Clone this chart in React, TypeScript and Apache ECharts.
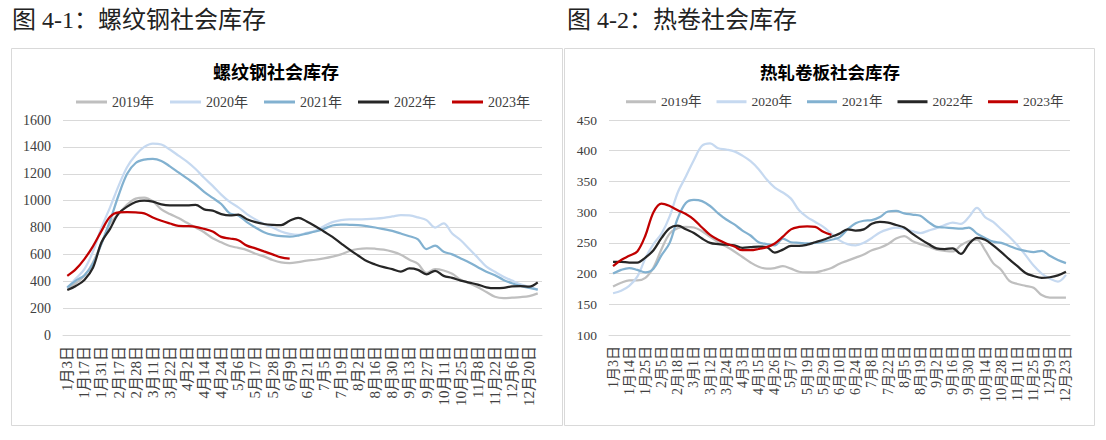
import React, { useEffect, useRef } from 'react';
import * as echarts from 'echarts';

const years = ['2019年', '2020年', '2021年', '2022年', '2023年'];
const colors = ['#BFBFBF', '#C6D9F0', '#82B1D0', '#262626', '#C00000'];

const rebarDates = ['1月3日','1月10日','1月17日','1月24日','1月31日','2月7日','2月17日','2月21日','2月28日','3月4日','3月11日','3月15日','3月22日','3月26日','4月2日','4月8日','4月14日','4月19日','4月24日','4月29日','5月6日','5月11日','5月17日','5月22日','5月28日','6月2日','6月9日','6月15日','6月21日','6月28日','7月5日','7月12日','7月19日','7月26日','8月2日','8月9日','8月16日','8月23日','8月30日','9月6日','9月13日','9月20日','9月27日','10月4日','10月11日','10月18日','10月25日','11月1日','11月8日','11月15日','11月22日','11月29日','12月6日','12月13日','12月20日','12月27日'];

const rebar2019 = [350,385,440,540,680,830,900,970,1015,1022,995,935,900,870,835,800,765,720,690,662,648,632,605,585,558,540,535,542,553,560,570,583,600,625,640,645,642,635,620,597,560,530,462,490,480,455,412,385,355,320,285,275,278,282,290,310];
const rebar2020 = [350,420,490,620,800,950,1110,1250,1340,1400,1425,1418,1380,1335,1290,1235,1170,1110,1045,990,950,900,860,825,800,770,752,745,760,775,810,840,855,860,860,862,866,872,882,893,890,875,855,800,830,755,705,640,575,508,470,434,405,378,358,338];
const rebar2021 = [355,405,445,530,680,850,1040,1200,1280,1305,1310,1295,1255,1210,1165,1120,1065,1020,975,905,890,840,800,765,745,735,732,740,755,770,790,815,822,820,818,810,800,788,775,755,735,712,640,665,620,600,570,540,505,470,445,410,385,365,350,338];
const rebar2022 = [335,365,410,500,690,790,905,955,990,1000,992,972,965,965,965,968,935,925,900,890,895,862,840,826,820,818,850,872,845,810,770,730,682,635,592,550,525,505,490,472,495,485,452,478,440,425,405,390,375,355,348,350,362,363,360,392];
const rebar2023 = [440,490,565,660,775,880,912,915,912,905,875,850,830,812,810,805,790,770,730,718,705,665,645,622,600,578,568];

const coilDates = ['1月3日','1月8日','1月14日','1月19日','1月25日','1月30日','2月5日','2月11日','2月18日','2月23日','3月1日','3月6日','3月12日','3月18日','3月24日','3月29日','4月3日','4月9日','4月15日','4月20日','4月26日','5月1日','5月7日','5月13日','5月19日','5月24日','5月29日','6月3日','6月10日','6月17日','6月24日','7月1日','7月8日','7月15日','7月22日','7月29日','8月5日','8月12日','8月19日','8月26日','9月2日','9月9日','9月16日','9月23日','9月30日','10月7日','10月14日','10月21日','10月28日','11月4日','11月11日','11月18日','11月25日','12月2日','12月9日','12月16日','12月23日'];

const coil2019 = [179,185,189,189,193,210,240,265,274,276,275,269,260,251,244,236,227,218,211,208,209,212,208,203,202,202,205,209,216,221,226,231,238,242,248,257,261,253,248,244,239,237,236,246,253,255,238,217,206,188,183,180,177,165,161,161,161];
const coil2020 = [168,172,180,195,225,248,265,293,332,358,385,408,412,404,402,399,392,383,370,353,340,332,322,303,292,284,276,265,254,248,246,250,258,267,272,275,273,269,266,270,274,279,283,281,292,307,292,284,272,260,246,230,213,200,192,187,198];
const coil2021 = [200,206,209,206,202,208,230,250,290,315,320,318,310,298,288,280,270,262,251,248,246,257,251,250,249,250,252,255,259,272,282,286,287,292,301,302,298,296,294,284,276,275,274,273,275,265,258,252,250,245,240,237,235,237,229,222,217];
const coil2022 = [219,219,218,218,226,238,258,274,278,272,266,257,250,248,247,246,242,243,244,243,234,239,245,245,247,251,255,260,265,272,270,272,281,284,283,279,275,265,256,248,241,240,241,232,248,258,255,246,235,223,212,201,196,193,194,197,203];
const coil2023 = [212,222,229,236,262,300,314,310,303,297,288,275,263,255,249,244,238,238,240,243,249,260,272,276,277,276,268,263];

const rebarSeries = [rebar2019, rebar2020, rebar2021, rebar2022, rebar2023];
const coilSeries = [coil2019, coil2020, coil2021, coil2022, coil2023];

const SERIF = "'Liberation Serif', 'Noto Sans CJK SC', serif";
const SANS = "'Noto Sans CJK SC', sans-serif";
const TEXT = '#404040';
const GRID = '#D9D9D9';

export default function App() {
  const ref = useRef<HTMLDivElement>(null);
  useEffect(() => {
    if (!ref.current) return;
    const chart = echarts.init(ref.current, null, { renderer: 'svg' });

    const makeX = (idx: number, data: string[], fs: number) => ({
      type: 'category',
      gridIndex: idx,
      data,
      boundaryGap: true,
      axisLine: { show: true, lineStyle: { color: GRID, width: 1 } },
      axisTick: { show: false },
      axisLabel: {
        interval: 1,
        rotate: 90,
        margin: 11,
        fontSize: fs,
        fontFamily: SERIF,
        color: TEXT,
      },
    });
    const makeY = (idx: number, min: number, max: number, interval: number, fs: number) => ({
      type: 'value',
      gridIndex: idx,
      min,
      max,
      interval,
      axisLine: { show: false },
      axisTick: { show: false },
      splitLine: { show: true, lineStyle: { color: GRID, width: 1 } },
      axisLabel: {
        margin: 12,
        fontSize: fs,
        fontFamily: SERIF,
        color: TEXT,
        formatter: (v: number) => String(v),
      },
    });

    const series: any[] = [];
    [rebarSeries, coilSeries].forEach((set, k) => {
      set.forEach((data, y) => {
        series.push({
          type: 'line',
          name: years[y],
          xAxisIndex: k,
          yAxisIndex: k,
          data,
          symbol: 'none',
          smooth: 0.35,
          lineStyle: { width: 2.25, color: colors[y] },
          itemStyle: { color: colors[y] },
          z: 2 + y,
        });
      });
    });

    const legendBase = {
      data: years,
      top: 95,
      padding: 0,
      icon: 'rect',
      itemHeight: 3,
    };

    const option: any = {
      animation: false,
      backgroundColor: '#fff',
      color: colors,
      grid: [
        { left: 63, right: 1106 - 542, top: 120, bottom: 440 - 335 },
        { left: 609, right: 1106 - 1070, top: 120, bottom: 440 - 335 },
      ],
      xAxis: [makeX(0, rebarDates, 15), makeX(1, coilDates, 14)],
      yAxis: [makeY(0, 0, 1600, 200, 14), makeY(1, 100, 450, 50, 13.5)],
      legend: [
        {
          ...legendBase,
          left: 76,
          itemWidth: 31,
          itemGap: 16,
          textStyle: { fontSize: 14, fontFamily: SERIF, color: TEXT },
        },
        {
          ...legendBase,
          left: 626,
          itemWidth: 30,
          itemGap: 15,
          textStyle: { fontSize: 13.5, fontFamily: SERIF, color: TEXT },
        },
      ],
      graphic: [
        { type: 'rect', shape: { x: 11.5, y: 48.5, width: 551, height: 377 }, style: { fill: 'none', stroke: GRID, lineWidth: 1 }, z: -1 },
        { type: 'rect', shape: { x: 564.5, y: 48.5, width: 530, height: 377 }, style: { fill: 'none', stroke: GRID, lineWidth: 1 }, z: -1 },
        { type: 'text', x: 12, y: 20, style: { text: '图 4-1：螺纹钢社会库存', fontSize: 24, fontFamily: SERIF, fill: '#222', textAlign: 'left', textVerticalAlign: 'middle' } },
        { type: 'text', x: 567, y: 20, style: { text: '图 4-2：热卷社会库存', fontSize: 24, fontFamily: SERIF, fill: '#222', textAlign: 'left', textVerticalAlign: 'middle' } },
        { type: 'text', x: 276, y: 71, style: { text: '螺纹钢社会库存', fontSize: 18, fontWeight: 'bold', fontFamily: SANS, fill: '#000', textAlign: 'center', textVerticalAlign: 'middle' } },
        { type: 'text', x: 830, y: 71, style: { text: '热轧卷板社会库存', fontSize: 17.5, fontWeight: 'bold', fontFamily: SANS, fill: '#000', textAlign: 'center', textVerticalAlign: 'middle' } },
      ],
      series,
    };
    chart.setOption(option);
    return () => chart.dispose();
  }, []);
  return <div ref={ref} style={{ position: 'absolute', left: 0, top: 0, width: 1106, height: 440 }} />;
}
